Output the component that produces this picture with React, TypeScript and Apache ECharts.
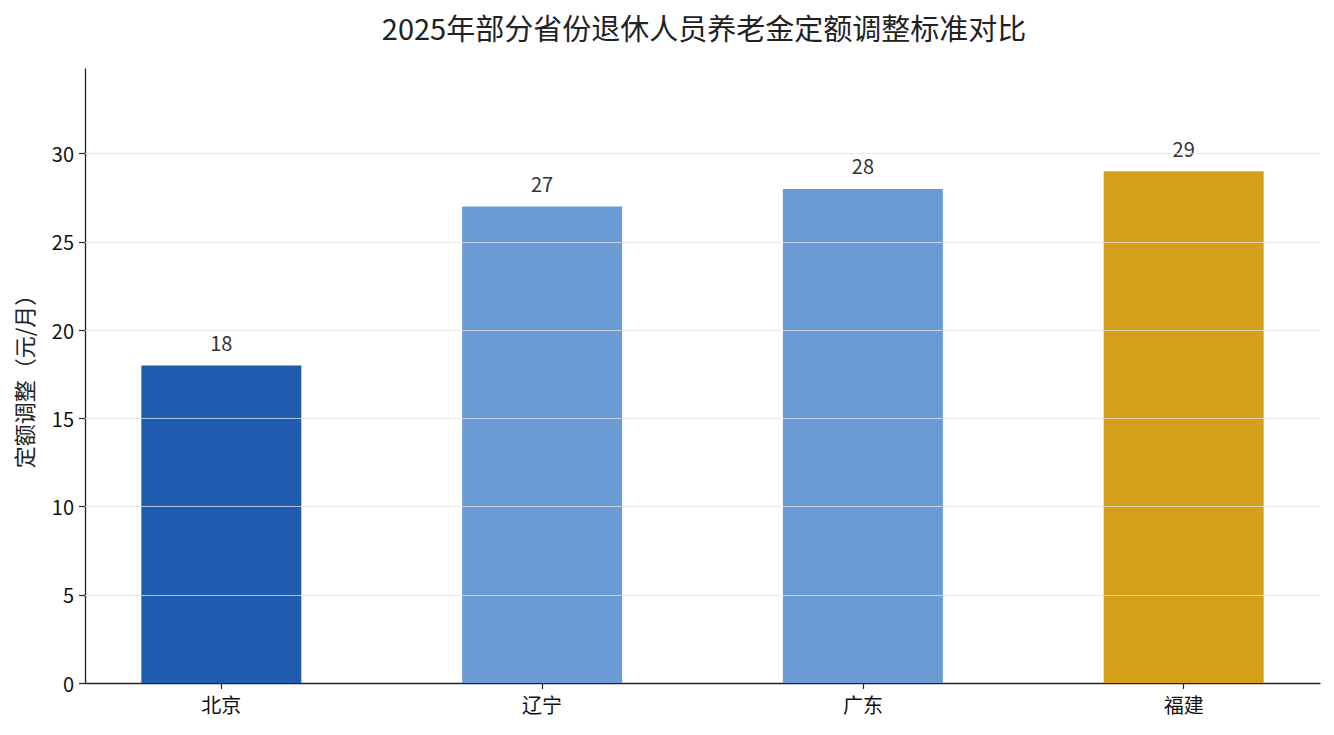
import React, { useEffect, useRef } from "react";
import * as echarts from "echarts";

const title = "2025年部分省份退休人员养老金定额调整标准对比";
const categories = ["北京", "辽宁", "广东", "福建"];
const values = [18, 27, 28, 29];
const barColors = ["#1f5baf", "#6b9bd4", "#6b9bd4", "#d4a01a"];
const yTicks = [0, 5, 10, 15, 20, 25, 30];
const yName = "定额调整（元/月）";

const FONT = "'Noto Sans CJK SC', 'Noto Sans', sans-serif";

export default function App() {
  const ref = useRef<HTMLDivElement>(null);
  useEffect(() => {
    if (!ref.current) return;
    const chart = echarts.init(ref.current, null, { renderer: "svg" });
    const xIdx = categories.map((_, i) => i);
    chart.setOption({
      animation: false,
      backgroundColor: "#ffffff",
      textStyle: { fontFamily: FONT },
      title: {
        text: title,
        left: 699,
        textAlign: "center",
        top: 7,
        textStyle: { fontFamily: FONT, fontSize: 29, fontWeight: "normal", color: "#222222" },
      },
      grid: { left: 85, right: 14, top: 69, bottom: 52, containLabel: false },
      xAxis: {
        type: "value",
        min: -0.425,
        max: 3.425,
        splitLine: { show: false },
        axisLine: { show: true, onZero: false, lineStyle: { color: "#222222", width: 1.3 } },
        axisTick: { show: true, customValues: xIdx, length: 6, lineStyle: { color: "#222222", width: 1.2 } },
        axisLabel: {
          customValues: xIdx,
          formatter: (v: number) => categories[Math.round(v)] ?? "",
          fontSize: 20,
          color: "#111111",
          fontFamily: FONT,
          margin: 11,
        },
      },
      yAxis: {
        type: "value",
        min: 0,
        max: 34.8,
        name: yName,
        nameLocation: "middle",
        nameRotate: 90,
        nameGap: 51,
        nameTextStyle: { fontSize: 22, color: "#222222", fontFamily: FONT },
        splitLine: { show: false },
        axisLine: { show: true, onZero: false, lineStyle: { color: "#222222", width: 1.3 } },
        axisTick: { show: true, customValues: yTicks, length: 6, lineStyle: { color: "#222222", width: 1.2 } },
        axisLabel: { customValues: yTicks, fontSize: 20, color: "#111111", fontFamily: FONT, margin: 11 },
      },
      series: [
        {
          type: "bar",
          barWidth: 160,
          data: values.map((v, i) => ({ value: [i, v], itemStyle: { color: barColors[i] } })),
          label: {
            show: true,
            position: "top",
            distance: 13,
            formatter: (p: any) => String(p.value[1]),
            fontSize: 20,
            color: "#333333",
            fontFamily: FONT,
          },
          markLine: {
            silent: true,
            symbol: ["none", "none"],
            label: { show: false },
            z: 10,
            lineStyle: { color: "rgba(225,225,225,0.75)", width: 1, type: "solid" },
            data: yTicks.filter((t) => t > 0).map((t) => ({ yAxis: t })),
          },
        },
      ],
    });
    return () => chart.dispose();
  }, []);
  return (
    <div
      ref={ref}
      style={{ position: "absolute", left: 0, top: 0, width: 1334, height: 735 }}
    />
  );
}
